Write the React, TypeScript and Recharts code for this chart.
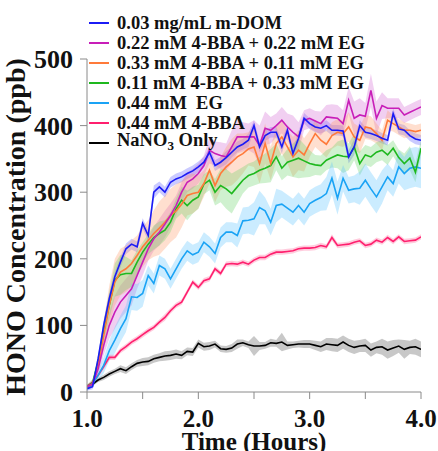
import { ComposedChart, Line, Area, XAxis, YAxis, Legend } from "recharts";

// time in hours
const time = [
  1.0, 1.05, 1.1, 1.15, 1.2, 1.25, 1.3, 1.35, 1.4, 1.45,
  1.5, 1.55, 1.6, 1.65, 1.7, 1.75, 1.8, 1.85, 1.9, 1.95,
  2.0, 2.05, 2.1, 2.15, 2.2, 2.25, 2.3, 2.35, 2.4, 2.45,
  2.5, 2.55, 2.6, 2.65, 2.7, 2.75, 2.8, 2.85, 2.9, 2.95,
  3.0, 3.05, 3.1, 3.15, 3.2, 3.25, 3.3, 3.35, 3.4, 3.45,
  3.5, 3.55, 3.6, 3.65, 3.7, 3.75, 3.8, 3.85, 3.9, 3.95, 4.0,
];

// HONO (ppb), mean values
const mDom = [
  5, 8, 50, 100, 140, 173, 195, 215, 222, 218,
  253, 235, 300, 308, 300, 315, 320, 323, 328, 332,
  338, 345, 360, 340, 345, 352, 360, 368, 372, 378,
  400, 368, 385, 390, 390, 368, 393, 358, 381, 411,
  403, 398, 396, 400, 393, 393, 392, 353, 368, 400,
  390, 388, 385, 381, 378, 418, 395, 393, 385, 380, 378,
];
const bba22eg22 = [
  8, 12, 35, 70, 100, 120, 135, 145, 155, 175,
  195, 215, 230, 240, 252, 265, 280, 300, 315, 320,
  328, 340, 363, 358, 355, 353, 368, 383, 383, 383,
  383, 370, 396, 393, 400, 408, 398, 390, 383, 408,
  411, 407, 403, 413, 412, 411, 403, 438, 411, 416,
  414, 453, 411, 430, 426, 426, 426, 416, 420, 424, 428,
];
const bba33eg11 = [
  8, 12, 40, 85, 130, 165, 180, 185, 193, 205,
  218, 228, 238, 246, 255, 265, 272, 282, 295, 298,
  300, 313, 333, 310, 328, 338, 345, 353, 358, 365,
  368, 343, 373, 343, 373, 383, 368, 353, 363, 356,
  373, 388, 378, 372, 385, 390, 388, 398, 383, 378,
  398, 396, 388, 378, 408, 403, 398, 393, 393, 391, 393,
];
const bba11eg33 = [
  8, 14, 45, 90, 130, 168, 176, 178, 178, 195,
  210, 222, 232, 238, 243, 255, 275, 288, 280, 288,
  293, 312, 318, 300, 310, 305, 298, 308, 318, 325,
  328, 333, 336, 340, 353, 336, 345, 348, 351, 347,
  343, 341, 340, 348, 352, 356, 354, 353, 368, 343,
  356, 353, 360, 363, 356, 366, 352, 343, 351, 330, 366,
];
const eg44 = [
  5, 12, 25, 40, 62, 78, 95, 110, 143, 142,
  148, 175, 163, 190, 185, 170, 185, 200, 212, 206,
  210, 225, 218, 208, 232, 240, 240, 235, 257, 258,
  260, 277, 272, 255, 280, 282, 276, 270, 280, 270,
  283, 288, 292, 298, 321, 291, 321, 303, 305, 306,
  318, 305, 293, 308, 323, 313, 338, 328, 336, 338, 336,
];
const bba44 = [
  8, 15, 25, 38, 52, 52, 62, 68, 75, 80,
  86, 92, 97, 105, 112, 122, 130, 135, 150, 165,
  157, 167, 170, 185, 178, 192, 193, 192, 195, 192,
  198, 202, 202, 207, 210, 210, 211, 212, 215, 216,
  216, 217, 220, 218, 232, 220, 221, 222, 225, 227,
  220, 222, 228, 225, 232, 226, 233, 226, 227, 228, 233,
];
const nano3 = [
  8, 12, 18, 22, 27, 31, 35, 32, 38, 43,
  45, 46, 50, 52, 54, 55, 57, 55, 61, 60,
  73, 68, 69, 72, 65, 64, 66, 72, 74, 71,
  69, 69, 70, 74, 73, 75, 70, 71, 72, 72,
  72, 70, 68, 72, 71, 70, 75, 70, 67, 69,
  70, 63, 67, 68, 63, 66, 69, 64, 67, 68, 64,
];

// half width of the shaded band (ppb)
const mDomErr = [
  3, 4, 6, 8, 8, 8, 8, 8, 8, 8,
  8, 8, 10, 8, 8, 8, 8, 8, 8, 8,
  8, 8, 8, 8, 8, 10, 8, 8, 8, 10,
  8, 8, 8, 8, 8, 10, 8, 8, 10, 8,
  8, 8, 8, 8, 8, 8, 8, 10, 12, 8,
  8, 8, 8, 8, 8, 8, 8, 8, 8, 8, 8,
];
const bba22eg22Err = [
  3, 5, 10, 15, 20, 25, 25, 25, 25, 20,
  20, 18, 18, 20, 20, 18, 15, 15, 15, 15,
  15, 15, 20, 18, 20, 20, 25, 25, 22, 20,
  25, 30, 25, 20, 18, 20, 20, 25, 22, 15,
  15, 15, 18, 18, 20, 20, 20, 20, 25, 25,
  20, 25, 25, 20, 15, 15, 15, 12, 12, 12, 12,
];
const bba33eg11Err = [
  3, 5, 10, 20, 30, 35, 35, 35, 35, 30,
  30, 30, 35, 40, 40, 40, 40, 35, 30, 30,
  25, 20, 20, 25, 25, 30, 35, 35, 30, 25,
  30, 30, 30, 25, 25, 25, 25, 30, 30, 25,
  20, 20, 18, 20, 20, 20, 20, 22, 20, 20,
  18, 18, 15, 15, 15, 12, 12, 12, 10, 10, 10,
];
const bba11eg33Err = [
  3, 5, 10, 15, 20, 25, 30, 25, 20, 18,
  15, 15, 18, 18, 15, 15, 15, 20, 22, 20,
  18, 15, 15, 20, 25, 30, 30, 25, 20, 18,
  18, 20, 22, 25, 20, 18, 20, 25, 30, 25,
  20, 15, 15, 15, 15, 20, 25, 20, 20, 18,
  15, 15, 15, 15, 15, 12, 12, 15, 18, 15, 12,
];
const eg44Err = [
  3, 5, 8, 12, 15, 20, 20, 20, 20, 20,
  20, 15, 15, 15, 15, 15, 15, 15, 15, 15,
  15, 15, 15, 15, 15, 15, 15, 18, 20, 20,
  25, 25, 20, 20, 25, 20, 20, 20, 20, 20,
  20, 20, 20, 25, 25, 25, 20, 20, 20, 25,
  25, 25, 25, 25, 20, 20, 25, 25, 30, 30, 30,
];
const bba44Err = [
  2, 3, 3, 4, 4, 4, 4, 4, 4, 4,
  4, 4, 4, 4, 5, 4, 4, 4, 4, 4,
  4, 4, 4, 4, 4, 4, 4, 4, 4, 4,
  4, 4, 4, 4, 4, 4, 4, 4, 4, 4,
  4, 4, 4, 4, 5, 4, 4, 4, 4, 4,
  4, 4, 4, 4, 4, 4, 4, 4, 4, 4, 4,
];
const nano3Err = [
  3, 3, 3, 4, 4, 4, 5, 5, 5, 5,
  6, 6, 6, 6, 7, 7, 7, 6, 6, 6,
  6, 6, 6, 5, 5, 5, 6, 7, 5, 5,
  15, 6, 5, 6, 5, 14, 6, 5, 5, 6,
  6, 7, 8, 9, 10, 10, 10, 10, 10, 9,
  10, 10, 9, 12, 13, 12, 10, 14, 10, 12, 12,
];

const xTicks = [1, 1.5, 2, 2.5, 3, 3.5, 4];
const xLabels = ["1.0", "", "2.0", "", "3.0", "", "4.0"];
const yTicks = [0, 100, 200, 300, 400, 500];

// legend order, top to bottom
const series = [
  { key: "mDom", name: "0.03 mg/mL m-DOM", values: mDom, err: mDomErr, color: "#1b1bf5", band: "#5a5aff" },
  { key: "bba22eg22", name: "0.22 mM 4-BBA + 0.22 mM EG", values: bba22eg22, err: bba22eg22Err, color: "#c81eb8", band: "#d36ad3" },
  { key: "bba33eg11", name: "0.33 mM 4-BBA + 0.11 mM EG", values: bba33eg11, err: bba33eg11Err, color: "#ff7a3a", band: "#ff9c6a" },
  { key: "bba11eg33", name: "0.11 mM 4-BBA + 0.33 mM EG", values: bba11eg33, err: bba11eg33Err, color: "#1eb81e", band: "#6ad46a" },
  { key: "eg44", name: "0.44 mM  EG", values: eg44, err: eg44Err, color: "#1aa3f5", band: "#5ec3ff" },
  { key: "bba44", name: "0.44 mM 4-BBA", values: bba44, err: bba44Err, color: "#ff1f6e", band: "#ff5f95" },
  { key: "nano3", name: "NaNO3 Only", values: nano3, err: nano3Err, color: "#000000", band: "#555555" },
];

const data = time.map((t, i) => {
  const row: Record<string, number | number[]> = { t };
  series.forEach((s) => {
    row[s.key] = s.values[i];
    row[s.key + "Band"] = [s.values[i] - s.err[i], s.values[i] + s.err[i]];
  });
  return row;
});

const FONT = "'Liberation Serif', 'Times New Roman', serif";
const AXIS = "#8a8a8a";

const legendLabel = (name: string) => {
  if (name.startsWith("NaNO3")) {
    return (
      <>
        NaNO<sub style={{ fontSize: 13, verticalAlign: -4 }}>3</sub>
        {name.slice(5)}
      </>
    );
  }
  return name;
};

const renderLegend = () => (
  <div style={{ fontFamily: FONT, fontWeight: "bold", fontSize: 18.5 }}>
    {series.map((s) => (
      <div key={s.key} style={{ display: "flex", alignItems: "center", height: 20 }}>
        <span style={{ display: "inline-block", width: 20, height: 2, background: s.color, marginRight: 8 }} />
        <span style={{ whiteSpace: "pre", lineHeight: "20px", color: "#111" }}>{legendLabel(s.name)}</span>
      </div>
    ))}
  </div>
);

const XTick = ({ x, y, payload }: any) => {
  const idx = xTicks.indexOf(payload.value);
  const label = idx >= 0 ? xLabels[idx] : "";
  if (!label) return <g />;
  return (
    <text x={x} y={y} dy={26} textAnchor="middle" fontFamily={FONT} fontWeight="bold" fontSize={25} fill="#111">
      {label}
    </text>
  );
};

const YTick = ({ x, y, payload }: any) => (
  <text x={x} y={y} dx={-5} dy={9} textAnchor="end" fontFamily={FONT} fontWeight="bold" fontSize={26} fill="#111">
    {payload.value}
  </text>
);

const XTitle = ({ viewBox }: any) => (
  <text
    x={viewBox.x + viewBox.width / 2}
    y={450}
    textAnchor="middle"
    fontFamily={FONT}
    fontWeight="bold"
    fontSize={25}
    fill="#111"
  >
    Time (Hours)
  </text>
);

const YTitle = () => (
  <text
    x={25}
    y={227}
    transform="rotate(-90, 25, 227)"
    textAnchor="middle"
    fontFamily={FONT}
    fontWeight="bold"
    fontSize={28}
    fill="#111"
  >
    HONO Concentration (ppb)
  </text>
);

export default function App() {
  return (
    <div style={{ position: "absolute", left: 0, top: 0, width: 438, height: 451, background: "#fff" }}>
      <ComposedChart width={438} height={451} data={data} margin={{ top: 59, right: 17, bottom: 0, left: 0 }}>
        <XAxis
          dataKey="t"
          type="number"
          domain={[1, 4]}
          ticks={xTicks}
          tick={<XTick />}
          tickSize={7}
          stroke={AXIS}
          height={59}
          allowDataOverflow
          label={<XTitle />}
        />
        <YAxis
          type="number"
          domain={[0, 500]}
          ticks={yTicks}
          tick={<YTick />}
          tickSize={7}
          stroke={AXIS}
          width={87}
          allowDataOverflow
          label={<YTitle />}
        />
        {series.map((s) => (
          <Area
            key={s.key + "Band"}
            dataKey={s.key + "Band"}
            type="linear"
            stroke="none"
            fill={s.band}
            fillOpacity={0.32}
            isAnimationActive={false}
            legendType="none"
          />
        ))}
        {[...series].reverse().map((s) => (
          <Line
            key={s.key}
            dataKey={s.key}
            name={s.name}
            type="linear"
            stroke={s.color}
            strokeWidth={1.6}
            dot={false}
            isAnimationActive={false}
          />
        ))}
        <Legend
          content={renderLegend}
          layout="horizontal"
          verticalAlign="middle"
          align="center"
          wrapperStyle={{ left: 89, top: 13, width: 320 }}
        />
      </ComposedChart>
    </div>
  );
}
